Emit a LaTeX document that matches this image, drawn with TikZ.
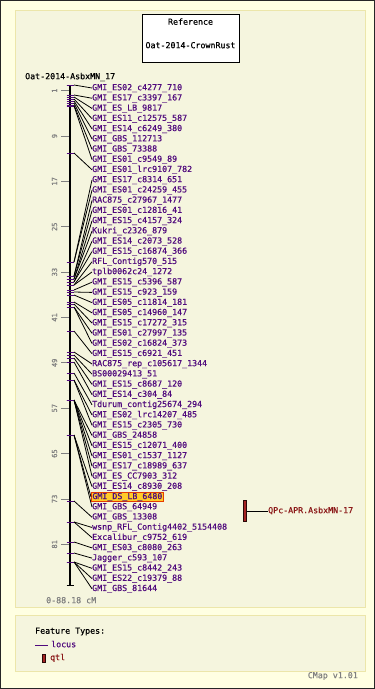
\documentclass[tikz,border=0pt]{standalone}
\usepackage{fontspec}
\setmonofont{DejaVu Sans Mono}
\newfontfamily\cmapfont{DejaVu Sans Mono}[RawFeature={embolden=0.6}]
\definecolor{lociC}{RGB}{80,10,125}
\definecolor{qtlC}{RGB}{140,26,26}
\definecolor{qtlFill}{RGB}{165,35,35}
\definecolor{bgOuter}{RGB}{255,255,226}
\definecolor{bgPanel}{RGB}{245,245,222}
\definecolor{panelBorder}{RGB}{236,230,170}
\definecolor{scaleC}{RGB}{128,128,128}
\definecolor{hiFill}{RGB}{255,204,40}
\definecolor{hiDraw}{RGB}{230,60,0}
\tikzset{
  lab/.style={font=\cmapfont\fontsize{8.3}{9}\selectfont, text=lociC, anchor=west, inner sep=0pt, text height=6pt, text depth=1.6pt},
  plain/.style={font=\cmapfont\fontsize{8.3}{9}\selectfont, inner sep=0pt, text height=6pt, text depth=1.6pt},
  conn/.style={draw=black, line width=0.8pt},
  mk/.style={draw=lociC, line width=1pt},
  scalelab/.style={font=\cmapfont\fontsize{7}{8}\selectfont, text=scaleC, rotate=90, inner sep=0pt},
  panel/.style={fill=bgPanel, draw=panelBorder, line width=1pt}
}
\begin{document}
\begin{tikzpicture}[x=1pt,y=-1pt]
\useasboundingbox (0,0) rectangle (375,689);
\fill[bgOuter] (0,0) rectangle (375,689);
\draw[black!85, line width=1pt] (0.5,0.5) rectangle (374.5,688.5);
% panels
\draw[panel] (15,10) rectangle (365,607);
\draw[panel] (15,615) rectangle (365,671);
% title box
\node[draw=black, fill=white, line width=0.8pt, minimum width=97pt, minimum height=48pt, inner sep=0pt] (title) at (190.5,38) {};
\node[plain] (titleA) at (190.5,22.5) {Reference};
\node[plain] (titleB) at (190.5,46) {Oat-2014-CrownRust};
\node[plain, anchor=west] (mapname) at (25,77) {Oat-2014-AsbxMN\_17};
% scale ticks
\foreach \c in {1,9,17,25,33,41,49,57,65,73,81} {
  \draw[scaleC, line width=0.8pt] (61,{85+\c*5.67}) -- (69,{85+\c*5.67});
  \node[scalelab] (s\c) at (54.5,{85+\c*5.67}) {\c};
}
% bar
\draw[black, line width=2pt] (70,85) -- (70,585);
\draw[black, line width=1pt] (66.5,85) -- (73.5,85);
\draw[black, line width=1pt] (66.5,585) -- (73.5,585);
\node[plain, text=scaleC, anchor=west] (range) at (46,601) {0-88.18 cM};
% loci
\foreach \i/\t/\m in {
 1/GMI\_ES02\_c4277\_710/85,
 2/GMI\_ES17\_c3397\_167/95,
 3/GMI\_ES\_LB\_9817/97,
 4/GMI\_ES11\_c12575\_587/99,
 5/GMI\_ES14\_c6249\_380/101,
 6/GMI\_GBS\_112713/103,
 7/GMI\_GBS\_73388/105,
 8/GMI\_ES01\_c9549\_89/106,
 9/GMI\_ES01\_lrc9107\_782/153,
 10/GMI\_ES17\_c8314\_651/262,
 11/GMI\_ES01\_c24259\_455/262,
 12/RAC875\_c27967\_1477/276,
 13/GMI\_ES01\_c12816\_41/276,
 14/GMI\_ES15\_c4157\_324/279,
 15/Kukri\_c2326\_879/279,
 16/GMI\_ES14\_c2073\_528/282,
 17/GMI\_ES15\_c16874\_366/282,
 18/RFL\_Contig570\_515/285,
 19/tplb0062c24\_1272/285,
 20/GMI\_ES15\_c5396\_587/290,
 21/GMI\_ES15\_c923\_159/292,
 22/GMI\_ES05\_c11814\_181/295,
 23/GMI\_ES05\_c14960\_147/302,
 24/GMI\_ES15\_c17272\_315/304,
 25/GMI\_ES01\_c27997\_135/307,
 26/GMI\_ES02\_c16824\_373/307,
 27/GMI\_ES15\_c6921\_451/331,
 28/RAC875\_rep\_c105617\_1344/352,
 29/BS00029413\_51/355,
 30/GMI\_ES15\_c8687\_120/358,
 31/GMI\_ES14\_c304\_84/362,
 32/Tdurum\_contig25674\_294/373,
 33/GMI\_ES02\_lrc14207\_485/380,
 34/GMI\_ES15\_c2305\_730/380,
 35/GMI\_GBS\_24858/400,
 36/GMI\_ES15\_c12071\_400/400,
 37/GMI\_ES01\_c1537\_1127/400,
 38/GMI\_ES17\_c18989\_637/400,
 39/GMI\_ES\_CC7903\_312/400,
 40/GMI\_ES14\_c8930\_208/435,
 42/GMI\_GBS\_64949/435,
 43/GMI\_GBS\_13308/501,
 44/wsnp\_RFL\_Contig4402\_5154408/522,
 45/Excalibur\_c9752\_619/522,
 46/GMI\_ES03\_c8080\_263/542,
 47/Jagger\_c593\_107/553,
 48/GMI\_ES15\_c8442\_243/562,
 49/GMI\_ES22\_c19379\_88/562,
 50/GMI\_GBS\_81644/562} {
  \draw[mk] (66.5,\m) -- (73.5,\m);
  \coordinate (m\i) at (74,\m);
  \node[lab] (l\i) at (92,{88+(\i-1)*10.22}) {\t};
  \draw[conn] (m\i) -- (l\i.west);
}
% highlighted locus
\draw[mk] (66.5,435) -- (73.5,435);
\coordinate (m41) at (74,435);
\node[lab, fill=hiFill, draw=hiDraw, line width=0.8pt, inner xsep=1pt, inner ysep=0.5pt] (l41) at (91,496.9) {GMI\_DS\_LB\_6480};
\draw[conn] (m41) -- (l41.west);
% QTL
\node[draw=black!70!qtlC, fill=qtlFill, line width=0.6pt, minimum width=3pt, minimum height=21pt, inner sep=0pt] (q) at (245,511) {};
\node[plain, text=qtlC, anchor=west] (ql) at (268,511) {QPc-APR.AsbxMN-17};
\draw[black, line width=0.8pt] (q.east) -- (ql.west);
% legend
\node[plain, anchor=west] (ft) at (35,631.5) {Feature Types:};
\coordinate (lg1) at (35,645);
\coordinate (lg2) at (48,645);
\draw[lociC, line width=0.8pt] (lg1) -- (lg2);
\node[plain, text=lociC, anchor=west] (lgl) at (51,645) {locus};
\node[draw=black!70!qtlC, fill=qtlFill, minimum width=3pt, minimum height=8pt, inner sep=0pt, line width=0.6pt] (lgq) at (44.2,658) {};
\node[plain, text=qtlC, anchor=west] (lgqt) at (50,658) {qtl};
\node[plain, text=scaleC, anchor=east] (ver) at (358,676) {CMap v1.01};
\end{tikzpicture}
\end{document}
